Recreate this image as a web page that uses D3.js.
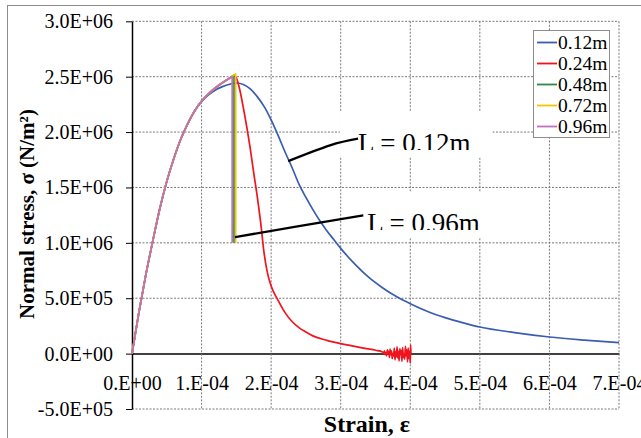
<!DOCTYPE html>
<html lang="en">
<head>
<meta charset="UTF-8">
<title>Normal stress vs strain</title>
<style>
  body { margin: 0; background: #fff; }
  svg { display: block; }
</style>
</head>
<body>
<script src="https://d3js.org/d3.v7.min.js"></script>
<script>
// series names (element length)
const seriesNames = ["0.12m", "0.24m", "0.48m", "0.72m", "0.96m"];
const seriesColors = ["#3a5db0", "#f0141e", "#2f8a4a", "#f5c400", "#c46ec0"];

// axis ticks
const xTicks = [0, 1e-4, 2e-4, 3e-4, 4e-4, 5e-4, 6e-4, 7e-4];
const yTicks = [-5e5, 0, 5e5, 1e6, 1.5e6, 2e6, 2.5e6, 3e6];

// strain in units of 1e-4, stress in units of 1e6
// common rising branch (all lengths)
const riseStrain = [0, 0.1, 0.2, 0.3, 0.4, 0.5, 0.6, 0.7, 0.8, 0.9];
const riseStress = [0, 0.375, 0.715, 1.02, 1.31, 1.555, 1.76, 1.935, 2.075, 2.19];

// near-peak branch shared by 0.24m .. 0.96m
const peakStrain = [1.0, 1.1, 1.2, 1.3, 1.4];
const peakStress = [2.28, 2.345, 2.40, 2.445, 2.485];

// 0.12m softening branch
const strain012 = [1.0, 1.1, 1.2, 1.3, 1.4, 1.5, 1.6, 1.7, 1.8, 1.9, 2.0, 2.1, 2.2, 2.3, 2.4, 2.5, 2.6,
  2.7, 2.8, 2.9, 3.0, 3.2, 3.4, 3.6, 3.8, 4.0, 4.25, 4.5, 4.75, 5.0, 5.5, 6.0, 6.5, 7.0];
const stress012 = [2.275, 2.335, 2.38, 2.41, 2.432, 2.443, 2.43, 2.39, 2.32, 2.23, 2.11, 1.97, 1.82, 1.68,
  1.53, 1.41, 1.30, 1.20, 1.11, 1.03, 0.95, 0.81, 0.69, 0.595, 0.515, 0.45, 0.38, 0.325, 0.28, 0.24,
  0.19, 0.15, 0.122, 0.099];

// 0.24m softening branch (ends in noise around zero)
const strain024 = [1.47, 1.5, 1.55, 1.6, 1.65, 1.7, 1.75, 1.8, 1.85, 1.9, 1.95, 2.0, 2.1, 2.2, 2.3, 2.4,
  2.5, 2.6, 2.8, 3.0, 3.2, 3.37, 3.5, 3.6,
  3.61, 3.62, 3.63, 3.64, 3.65, 3.66, 3.67, 3.68, 3.69, 3.70, 3.71, 3.72, 3.73, 3.74, 3.75, 3.76,
  3.77, 3.78, 3.79, 3.80, 3.81, 3.82, 3.83, 3.84, 3.85, 3.86, 3.87, 3.88, 3.89, 3.90, 3.91, 3.92,
  3.93, 3.94, 3.95, 3.96, 3.97, 3.98, 3.99, 4.00, 4.005, 4.01];
const stress024 = [2.51, 2.49, 2.38, 2.22, 2.045, 1.85, 1.63, 1.42, 1.18, 0.90, 0.72, 0.61, 0.48, 0.37,
  0.29, 0.235, 0.195, 0.16, 0.12, 0.09, 0.065, 0.045, 0.03, 0.015,
  0.012, 0.0, 0.025, -0.01, 0.01, -0.02, 0.035, 0.005, 0.02, -0.035, 0.04, -0.01, 0.025, -0.045, 0.0, -0.02,
  0.05, -0.055, 0.015, -0.03, 0.06, -0.04, 0.02, -0.065, 0.045, -0.01, 0.03, -0.07, 0.055, -0.035, 0.0, -0.05,
  0.065, -0.02, 0.035, -0.075, 0.05, -0.045, 0.02, -0.085, 0.08, 0.0];

// 0.48m, 0.72m, 0.96m: brittle drop at peak
const dropStrain = [1.466, 1.49, 1.44];
const dropTop = [2.515, 2.525, 2.50];
const dropBottom = [1.0, 1.0, 1.0];

// annotations
const annoLabels = ["L = 0.12m", "L = 0.96m"];
const annoTextAt = [[3.249, 1.821], [3.382, 1.099]];
const annoLeader = [
  [[2.246, 1.738], [2.846, 1.880], [3.249, 1.940]],
  [[1.48, 1.052], [2.40, 1.150], [3.325, 1.248]]
];

// build point lists
const pts = (s, v) => s.map((d, i) => [d * 1e-4, v[i] * 1e6]);
const rise = pts(riseStrain, riseStress);
const nearPeak = pts(peakStrain, peakStress);
const smoothParts = [
  rise.concat(pts(strain012, stress012)),
  rise.concat(nearPeak, pts(strain024, stress024))
];
const dropParts = dropStrain.map((s, i) => ({
  smooth: rise.concat(nearPeak, pts([s], [dropTop[i]])),
  drop: [s * 1e-4, dropBottom[i] * 1e6]
}));

const W = 641, H = 438;
const svg = d3.select("body").append("svg")
  .attr("width", W).attr("height", H)
  .style("font-family", "'Liberation Serif', 'Times New Roman', serif");

svg.append("rect").attr("width", W).attr("height", H).attr("fill", "#fff");
svg.append("rect")
  .attr("x", 7.5).attr("y", 5.5).attr("width", 700).attr("height", 500)
  .attr("fill", "none").attr("stroke", "#8c8c8c");

const x = d3.scaleLinear().domain([0, 7e-4]).range([132, 619]);
const y = d3.scaleLinear().domain([-5e5, 3e6]).range([409, 21.3]);

const fmtY = v => {
  const [m, e] = v.toExponential(1).split("e");
  return m + "E" + e[0] + e.slice(1).padStart(2, "0");
};
const fmtX = v => {
  const [m, e] = v.toExponential(0).split("e");
  return m + ".E" + e[0] + e.slice(1).padStart(2, "0");
};

// x axis along stress = 0
const gx = svg.append("g")
  .attr("transform", `translate(0,${y(0)})`)
  .call(d3.axisBottom(x).tickValues(xTicks).tickFormat(fmtX).tickSize(0).tickSizeOuter(0).tickPadding(22));
gx.select(".domain").attr("stroke", "#000").attr("stroke-width", 1.5);
gx.selectAll("text").attr("font-size", 20).attr("fill", "#000")
  .style("font-family", "'Liberation Serif', serif");

// gridlines
const grid = svg.append("g").attr("stroke", "#7a7a7a").attr("stroke-width", 1)
  .attr("stroke-dasharray", "2,1.5");
grid.selectAll(".h").data(yTicks.filter(d => d !== 0)).join("line")
  .attr("x1", x(0)).attr("x2", x(7e-4))
  .attr("y1", d => y(d)).attr("y2", d => y(d));
grid.selectAll(".v").data(xTicks.filter(d => d !== 0)).join("line")
  .attr("x1", d => x(d)).attr("x2", d => x(d))
  .attr("y1", y(3e6)).attr("y2", y(-5e5));

// y axis
const gy = svg.append("g")
  .attr("transform", `translate(${x(0)},0)`)
  .call(d3.axisLeft(y).tickValues(yTicks).tickFormat(fmtY).tickSize(6).tickSizeOuter(0).tickPadding(13));
gy.select(".domain").attr("stroke", "#000").attr("stroke-width", 1.5);
gy.selectAll(".tick line").attr("stroke", "#000");
gy.selectAll("text").attr("font-size", 20).attr("fill", "#000")
  .style("font-family", "'Liberation Serif', serif");

// curves
const line = d3.line().x(d => x(d[0])).y(d => y(d[1])).curve(d3.curveMonotoneX);
const curvesG = svg.append("g").attr("fill", "none").attr("stroke-width", 1.7)
  .attr("stroke-linejoin", "round");
smoothParts.forEach((d, i) => {
  curvesG.append("path").attr("d", line(d)).attr("stroke", seriesColors[i]);
});
dropParts.forEach((d, i) => {
  curvesG.append("path")
    .attr("d", line(d.smooth) + `L${x(d.drop[0])},${y(d.drop[1])}`)
    .attr("stroke", seriesColors[i + 2]);
});

// annotations with white text boxes (text clipped at the box bottom)
const defs = svg.append("defs");
annoLabels.forEach((lab, i) => {
  const tx = x(annoTextAt[i][0] * 1e-4), ty = y(annoTextAt[i][1] * 1e6);
  const g = svg.append("g");
  const box = g.append("rect").attr("fill", "#fff");
  const clip = defs.append("clipPath").attr("id", "clip" + i).append("rect");
  const t = g.append("text")
    .attr("x", tx).attr("y", ty)
    .attr("font-size", 27)
    .attr("clip-path", `url(#clip${i})`)
    .text(lab);
  const w = t.node().getComputedTextLength();
  box.attr("x", tx - 18).attr("y", ty - 40).attr("width", w + 40).attr("height", 45);
  clip.attr("x", tx - 18).attr("y", ty - 40).attr("width", w + 40).attr("height", 38);
  svg.append("path")
    .datum(annoLeader[i].map(p => [p[0] * 1e-4, p[1] * 1e6]))
    .attr("d", d3.line().x(d => x(d[0])).y(d => y(d[1])).curve(d3.curveNatural))
    .attr("fill", "none").attr("stroke", "#000").attr("stroke-width", 2.3);
});

// legend
const lg = svg.append("g");
lg.append("rect")
  .attr("x", 533.5).attr("y", 30.5).attr("width", 76).attr("height", 107)
  .attr("fill", "#fff").attr("stroke", "#8c8c8c");
const item = lg.selectAll("g.item").data(seriesNames).join("g")
  .attr("transform", (d, i) => `translate(537,${42.5 + i * 21})`);
item.append("line").attr("x1", 0).attr("x2", 20)
  .attr("stroke", (d, i) => seriesColors[i]).attr("stroke-width", 1.8);
item.append("text").attr("x", 21).attr("y", 6.5).attr("font-size", 19.5).text(d => d);

// axis titles
svg.append("text")
  .attr("transform", "translate(33.5,214) rotate(-90)")
  .attr("text-anchor", "middle")
  .attr("font-size", 21).attr("font-weight", "bold")
  .text("Normal stress, σ (N/m²)");
svg.append("text")
  .attr("x", 367).attr("y", 432)
  .attr("text-anchor", "middle")
  .attr("font-size", 24).attr("font-weight", "bold")
  .text("Strain, ε");
</script>
</body>
</html>
